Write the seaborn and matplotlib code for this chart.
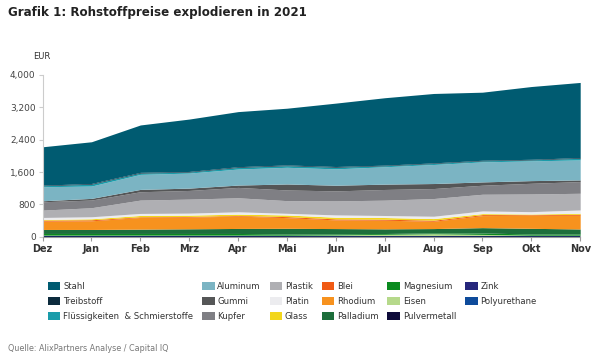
import numpy as np
import pandas as pd
import seaborn as sns
import matplotlib
matplotlib.use("Agg")
import matplotlib.pyplot as plt
from matplotlib.patches import Patch

months = ["Dez", "Jan", "Feb", "Mrz", "Apr", "Mai", "Jun", "Jul", "Aug", "Sep", "Okt", "Nov"]

# values in EUR (stack order bottom -> top is reversed below)
stahl = [948, 1031, 1171, 1295, 1361, 1402, 1567, 1666, 1715, 1682, 1798, 1856]
treibstoff = [15, 18, 18, 15, 18, 18, 18, 15, 15, 15, 15, 18]
fluessig = [25, 45, 32, 25, 40, 40, 40, 25, 25, 25, 25, 40]
aluminum = [346, 305, 371, 371, 396, 412, 404, 429, 470, 495, 487, 495]
gummi = [25, 41, 58, 58, 58, 148, 140, 132, 124, 82, 66, 41]
kupfer = [206, 190, 206, 214, 256, 264, 247, 264, 247, 223, 264, 289]
plastik = [181, 223, 330, 346, 346, 313, 346, 379, 437, 412, 437, 412]
platin = [50, 50, 50, 50, 58, 41, 58, 50, 58, 66, 58, 82]
glass = [16, 25, 33, 33, 33, 41, 41, 41, 41, 25, 16, 25]
blei = [25, 25, 16, 16, 16, 25, 25, 25, 25, 25, 16, 25]
rhodium = [206, 214, 289, 289, 305, 264, 214, 214, 181, 297, 322, 338]
palladium = [99, 99, 107, 115, 124, 140, 132, 115, 107, 132, 140, 124]
magnesium = [40, 40, 40, 40, 40, 30, 25, 20, 20, 35, 30, 30]
eisen = [8, 8, 8, 8, 8, 8, 15, 30, 45, 25, 8, 8]
pulvermetall = [18, 18, 18, 18, 18, 15, 15, 15, 15, 18, 15, 15]
zink = [8] * 12
polyurethane = [8] * 12

names = ["Stahl", "Treibstoff", "Flüssigkeiten  & Schmierstoffe", "Aluminum", "Gummi", "Kupfer",
         "Plastik", "Platin", "Glass", "Blei", "Rhodium", "Palladium",
         "Magnesium", "Eisen", "Pulvermetall", "Zink", "Polyurethane"]
series = [stahl, treibstoff, fluessig, aluminum, gummi, kupfer, plastik, platin, glass, blei,
          rhodium, palladium, magnesium, eisen, pulvermetall, zink, polyurethane]
colors = ["#005b71", "#0c2b3d", "#1a9caa", "#7bb4c3", "#555657", "#7f7f84", "#afafb3", "#ececef",
          "#f2d61c", "#f05a14", "#f7921e", "#1d6e3b", "#0a8a1f", "#b6d98b", "#0e0b3a", "#25267b", "#0e4b9b"]

df = pd.DataFrame(dict(zip(names, series)), index=months)

sns.set_theme(style="white")
plt.rcParams["font.family"] = ["DejaVu Sans"]

fig = plt.figure(figsize=(6, 3.55), dpi=100)
ax = fig.add_axes([0.071, 0.333, 0.896, 0.456])

x = np.arange(len(months))
ax.stackplot(x, [df[n].values for n in names[::-1]], colors=colors[::-1], linewidth=0)

ax.set_xlim(0, 11)
ax.set_ylim(0, 4000)
ax.set_yticks([0, 800, 1600, 2400, 3200, 4000])
ax.set_yticklabels(["0", "800", "1,600", "2,400", "3,200", "4,000"], fontsize=6.5, color="#444444")
ax.set_xticks(x)
ax.set_xticklabels(months, fontsize=7, fontweight="bold", color="#333333")
ax.tick_params(axis="x", direction="out", length=3, width=0.8, color="#999999", pad=2, bottom=True)
ax.tick_params(axis="y", direction="out", length=3, width=0.8, color="#cccccc", pad=2, left=True)
sns.despine(ax=ax, top=True, right=True)
ax.spines["left"].set_color("#cccccc")
ax.spines["bottom"].set_color("#999999")
ax.spines["left"].set_linewidth(0.8)
ax.spines["bottom"].set_linewidth(0.8)

fig.text(0.055, 0.835, "EUR", fontsize=6, color="#333333")
fig.text(0.013, 0.965, "Grafik 1: Rohstoffpreise explodieren in 2021", fontsize=8.6,
         fontweight="bold", color="#222222", va="center")
fig.text(0.013, 0.012, "Quelle: AlixPartners Analyse / Capital IQ", fontsize=5.8, color="#777777")

handles = [Patch(facecolor=c, edgecolor="none") for c in colors]
fig.legend(handles, names, ncol=6, loc="upper left", bbox_to_anchor=(0.074, 0.215),
           frameon=False, fontsize=6.1, handlelength=1.5, handleheight=1.1, handletextpad=0.3,
           columnspacing=1.05, labelspacing=0.68, labelcolor="#333333", borderaxespad=0)

fig.savefig("out.png", dpi=100)
